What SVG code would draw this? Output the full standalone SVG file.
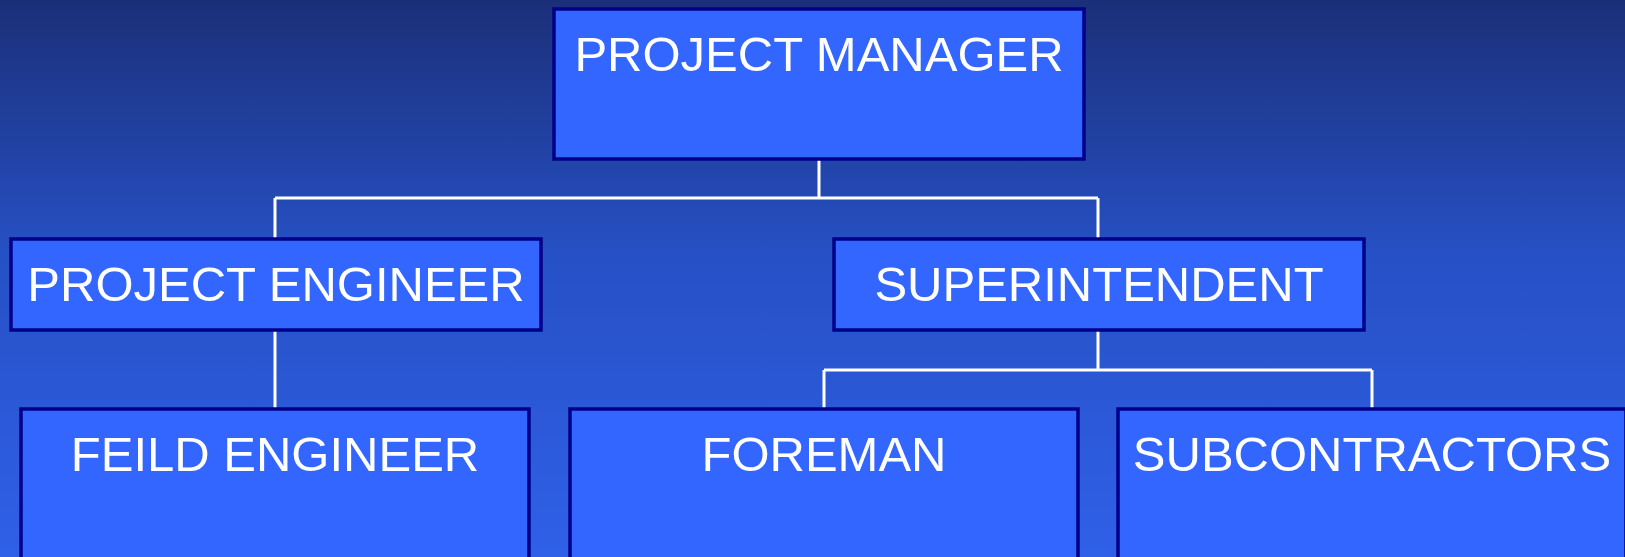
<svg xmlns="http://www.w3.org/2000/svg" width="1625" height="557" viewBox="0 0 1625 557">
<defs>
<linearGradient id="bg" x1="0" y1="0" x2="0" y2="1">
<stop offset="0" stop-color="#1b2f78"/>
<stop offset="0.45" stop-color="#2650c4"/>
<stop offset="1" stop-color="#2f60e8"/>
</linearGradient>
</defs>
<style>
.box{fill:#3366ff;stroke:#000088;stroke-width:3.5}
.lbl{font-family:"Liberation Sans",Arial,sans-serif;font-size:49px;fill:#ffffff;text-anchor:middle}
.conn{fill:none;stroke:#ffffff;stroke-width:3}
</style>
<rect x="0" y="0" width="1625" height="557" fill="url(#bg)"/>
<g id="connectors">
<path class="conn" d="M819 159 V198 M275 198 H1098 M275 198 V239 M1098 198 V239"/>
<path class="conn" d="M275 330 V409"/>
<path class="conn" d="M1098 330 V370 M824 370 H1372 M824 370 V409 M1372 370 V409"/>
</g>
<g id="project-manager">
<rect class="box" x="554" y="9" width="530" height="150"/>
<text class="lbl" x="819" y="71">PROJECT MANAGER</text>
</g>
<g id="project-engineer">
<rect class="box" x="11" y="239" width="530" height="91"/>
<text class="lbl" x="276" y="301">PROJECT ENGINEER</text>
</g>
<g id="superintendent">
<rect class="box" x="834" y="239" width="530" height="91"/>
<text class="lbl" x="1099" y="301">SUPERINTENDENT</text>
</g>
<g id="feild-engineer">
<rect class="box" x="21" y="409" width="508" height="200"/>
<text class="lbl" x="275" y="471">FEILD ENGINEER</text>
</g>
<g id="foreman">
<rect class="box" x="570" y="409" width="508" height="200"/>
<text class="lbl" x="824" y="471">FOREMAN</text>
</g>
<g id="subcontractors">
<rect class="box" x="1118" y="409" width="508" height="200"/>
<text class="lbl" x="1372" y="471">SUBCONTRACTORS</text>
</g>
</svg>
